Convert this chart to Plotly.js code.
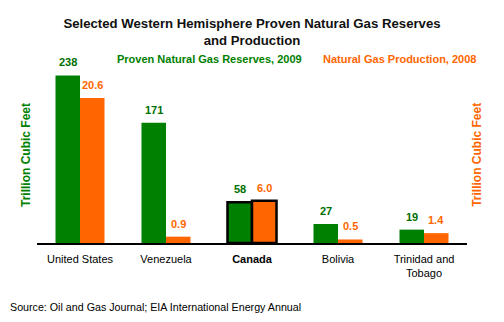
<!DOCTYPE html>
<html>
<head>
<meta charset="utf-8">
<script src="https://cdn.plot.ly/plotly-3.0.1.min.js"></script>
<style>html,body{margin:0;padding:0;background:#fff;}#chart{width:504px;height:322px;}</style>
</head>
<body>
<div id="chart"></div>
<script>
const categories = ["United States", "Venezuela", "Canada", "Bolivia", "Trinidad and Tobago"];
const tickLabels = ["United States", "Venezuela", "<b>Canada</b>", "Bolivia", "Trinidad and<br>Tobago"];
const reserves2009 = [238, 171, 58, 27, 19];
const production2008 = [20.6, 0.9, 6.0, 0.5, 1.4];
const reservesLabels = ["238", "171", "58", "27", "19"];
const productionLabels = ["20.6", "0.9", "6.0", "0.5", "1.4"];
const highlight = [false, false, true, false, false];

const GREEN = "#008000", ORANGE = "#FF6600";
const FONT = "Arial, 'Liberation Sans', sans-serif";
const BW = 0.285;
const idx = categories.map((c, i) => i);

const lineWidths = highlight.map(h => h ? 2.5 : 0);

const traces = [
  {
    type: "bar", x: idx, y: reserves2009, xaxis: "x", yaxis: "y",
    width: BW, offset: -BW,
    marker: {color: GREEN, line: {color: "#000", width: lineWidths}},
    hoverinfo: "skip", showlegend: false
  },
  {
    type: "bar", x: idx, y: production2008, xaxis: "x", yaxis: "y2",
    width: BW, offset: 0,
    marker: {color: ORANGE, line: {color: "#000", width: lineWidths}},
    hoverinfo: "skip", showlegend: false
  }
];

const annotations = [];
idx.forEach(i => {
  annotations.push({x: i - BW/2, y: reserves2009[i], xref: "x", yref: "y", text: "<b>" + reservesLabels[i] + "</b>",
    showarrow: false, yanchor: "middle", yshift: 13, font: {family: FONT, size: 11, color: "#007000"}});
  annotations.push({x: i + BW/2, y: production2008[i], xref: "x", yref: "y2", text: "<b>" + productionLabels[i] + "</b>",
    showarrow: false, yanchor: "middle", yshift: 13, font: {family: FONT, size: 11, color: ORANGE}});
});
annotations.push({xref: "paper", yref: "paper", x: 0.181, y: 1.005, xanchor: "left", yanchor: "middle",
  text: "<b>Proven Natural Gas Reserves, 2009</b>", showarrow: false, font: {family: FONT, size: 11, color: GREEN}});
annotations.push({xref: "paper", yref: "paper", x: 0.660, y: 1.005, xanchor: "left", yanchor: "middle",
  text: "<b>Natural Gas Production, 2008</b>", showarrow: false, font: {family: FONT, size: 11, color: ORANGE}});
annotations.push({xref: "paper", yref: "paper", x: -0.0256, y: 0.481, xanchor: "center", yanchor: "middle", textangle: -90,
  text: "<b>Trillion Cubic Feet</b>", showarrow: false, font: {family: FONT, size: 12, color: GREEN}});
annotations.push({xref: "paper", yref: "paper", x: 1.023, y: 0.481, xanchor: "center", yanchor: "middle", textangle: -90,
  text: "<b>Trillion Cubic Feet</b>", showarrow: false, font: {family: FONT, size: 12, color: ORANGE}});
annotations.push({xref: "paper", yref: "paper", x: -0.067, y: -0.35, xanchor: "left", yanchor: "middle",
  text: "Source: Oil and Gas Journal; EIA International Energy Annual", showarrow: false, font: {family: FONT, size: 10.7, color: "#000"}});

const layout = {
  width: 504, height: 322,
  margin: {l: 37, r: 37, t: 60, b: 79, pad: 0},
  paper_bgcolor: "#fff", plot_bgcolor: "#fff",
  font: {family: FONT, size: 11, color: "#000"},
  title: {text: "<b>Selected Western Hemisphere Proven Natural Gas Reserves<br>and Production</b>",
    x: 0.5, xref: "paper", xanchor: "center", y: 0.912, yref: "container", yanchor: "top",
    font: {family: FONT, size: 13.2, color: "#111"}},
  xaxis: {range: [-0.5, 4.5], tickvals: idx, ticktext: tickLabels, showgrid: false, zeroline: false,
    showline: true, linecolor: "#000", linewidth: 1.5, ticks: "", ticklabelstandoff: 5,
    tickfont: {family: FONT, size: 11, color: "#000"}, fixedrange: true},
  yaxis: {range: [0, 260], showgrid: false, zeroline: false, showline: false, showticklabels: false, ticks: "", fixedrange: true},
  yaxis2: {range: [0, 26], overlaying: "y", side: "right", showgrid: false, zeroline: false, showline: false, showticklabels: false, ticks: "", fixedrange: true},
  annotations: annotations,
  showlegend: false
};

Plotly.newPlot("chart", traces, layout, {displayModeBar: false, staticPlot: true});
</script>
</body>
</html>
